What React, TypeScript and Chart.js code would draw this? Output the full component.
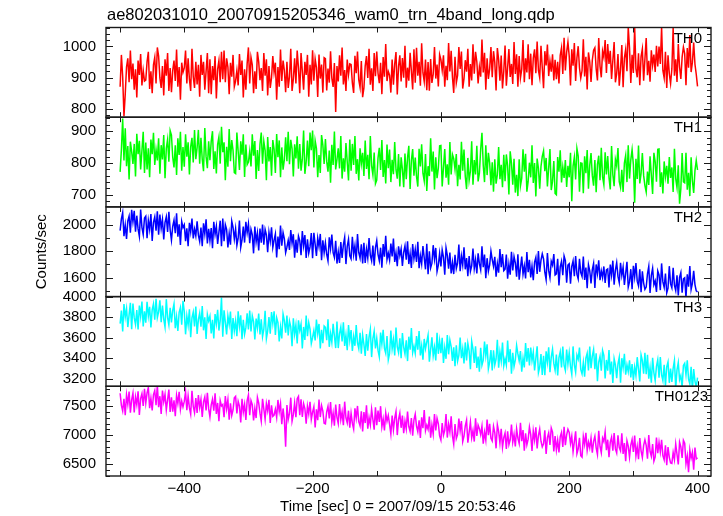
import React, { useEffect, useRef } from 'react';
import { Chart, registerables } from 'chart.js';

Chart.register(...registerables);

const TITLE = 'ae802031010_20070915205346_wam0_trn_4band_long.qdp';
const X_TITLE = 'Time [sec] 0 = 2007/09/15 20:53:46';
const Y_TITLE = 'Counts/sec';

// time grid of the light curves (seconds from 2007/09/15 20:53:46)
const T_START = -500;
const T_STEP = 2;

const X_MIN = -522;
const X_MAX = 421;
const X_LABEL_TICKS = [-400, -200, 0, 200, 400];
const X_MARKS = [-500, -400, -300, -200, -100, 0, 100, 200, 300, 400];

const BANDS = ['TH0', 'TH1', 'TH2', 'TH3', 'TH0123'];
const COLORS = ['#ff0000', '#00ff00', '#0000ff', '#00ffff', '#ff00ff'];
const Y_MIN = [773, 662, 1455, 3125, 6293];
const Y_MAX = [1061, 944, 2139, 4000, 7845];
const Y_TICKS = [
  [800, 900, 1000],
  [700, 800, 900],
  [1600, 1800, 2000],
  [3200, 3400, 3600, 3800, 4000],
  [6500, 7000, 7500],
];
const Y_MINOR = [20, 20, 100, 100, 100];
const Y_MAJOR = [100, 100, 200, 200, 500];

const TH0 = [
  871, 973, 903, 776, 847, 934, 962, 885, 987, 895,
  945, 861, 927, 836, 955, 909, 976, 875, 923, 889,
  892, 951, 983, 864, 920, 850, 941, 965, 881, 997,
  969, 899, 867, 937, 843, 959, 906, 979, 857, 931,
  853, 923, 955, 889, 990, 871, 934, 829, 948, 917,
  931, 987, 881, 962, 895, 857, 993, 903, 867, 951,
  878, 941, 839, 973, 909, 951, 861, 920, 979, 850,
  959, 847, 937, 892, 969, 833, 927, 955, 885, 983,
  895, 987, 885, 962, 934, 847, 948, 903, 973, 871,
  889, 923, 875, 976, 909, 955, 836, 927, 861, 945,
  997, 881, 965, 941, 850, 920, 864, 983, 951, 892,
  931, 857, 979, 906, 959, 843, 937, 867, 899, 969,
  917, 948, 829, 934, 871, 990, 889, 955, 923, 853,
  951, 867, 903, 993, 857, 895, 962, 881, 987, 931,
  850, 979, 920, 861, 951, 909, 973, 839, 941, 878,
  988, 890, 960, 932, 838, 974, 897, 942, 852, 964,
  961, 859, 929, 884, 985, 898, 870, 947, 790, 937,
  888, 972, 906, 997, 878, 924, 857, 958, 910, 944,
  942, 883, 851, 970, 914, 984, 893, 869, 953, 837,
  867, 937, 969, 899, 993, 877, 930, 857, 979, 905,
  984, 914, 882, 948, 847, 966, 903, 1008, 889, 920,
  908, 852, 958, 877, 944, 982, 846, 936, 972, 888,
  963, 900, 1002, 868, 932, 890, 980, 921, 862, 991,
  884, 996, 906, 951, 874, 1010, 916, 888, 958, 860,
  950, 858, 960, 883, 911, 998, 897, 942, 872, 974,
  958, 924, 972, 871, 938, 892, 1011, 920, 986, 902,
  851, 967, 883, 907, 998, 928, 984, 865, 897, 956,
  919, 993, 871, 944, 891, 1007, 913, 983, 951, 881,
  934, 903, 1022, 917, 980, 861, 962, 896, 928, 998,
  901, 985, 949, 859, 995, 957, 890, 971, 865, 921,
  1003, 874, 933, 992, 902, 944, 880, 1014, 912, 975,
  871, 969, 899, 927, 1021, 885, 962, 917, 1007, 895,
  977, 876, 963, 991, 914, 1016, 924, 900, 1002, 932,
  866, 985, 939, 1006, 905, 953, 919, 975, 891, 957,
  895, 951, 881, 972, 996, 912, 1028, 923, 982, 1014,
  969, 875, 991, 938, 1011, 889, 963, 1001, 931, 899,
  922, 1023, 904, 967, 862, 981, 950, 886, 956, 988,
  996, 929, 891, 1027, 937, 901, 985, 965, 1021, 915,
  1008, 944, 986, 896, 955, 1014, 885, 913, 976, 874,
  928, 1005, 869, 963, 991, 921, 1062, 995, 883, 973,
  915, 1062, 929, 901, 978, 876, 968, 992, 890, 960,
  1027, 908, 954, 887, 988, 940, 974, 918, 1002, 936,
  1000, 944, 1062, 923, 899, 983, 867, 972, 913, 881,
  928, 1060, 906, 959, 886, 1008, 934, 896, 966, 998,
  977, 876, 995, 932, 1037, 918, 949, 1013, 943, 911,
  872,
];

const TH1 = [
  772, 842, 940, 808, 909, 790, 853, 748, 867, 836,
  797, 860, 758, 892, 828, 870, 780, 839, 898, 769,
  864, 780, 846, 755, 874, 828, 895, 794, 842, 808,
  878, 766, 856, 811, 888, 752, 846, 874, 804, 902,
  888, 818, 786, 856, 762, 878, 825, 898, 776, 850,
  788, 890, 820, 865, 764, 851, 879, 802, 904, 812,
  848, 904, 798, 879, 812, 774, 910, 820, 784, 868,
  809, 868, 900, 781, 837, 767, 858, 882, 798, 914,
  834, 865, 746, 851, 788, 907, 806, 872, 840, 770,
  767, 896, 837, 778, 868, 826, 890, 756, 858, 795,
  803, 837, 789, 890, 823, 869, 750, 841, 775, 859,
  896, 798, 868, 840, 746, 882, 805, 850, 760, 872,
  843, 769, 891, 818, 871, 755, 849, 779, 811, 881,
  806, 898, 796, 873, 845, 758, 859, 814, 884, 782,
  860, 776, 812, 902, 766, 804, 871, 790, 896, 840,
  902, 786, 870, 846, 755, 825, 769, 888, 856, 797,
  875, 805, 773, 839, 738, 857, 794, 899, 780, 811,
  846, 783, 885, 751, 815, 773, 863, 804, 745, 874,
  776, 860, 794, 885, 766, 812, 745, 846, 798, 832,
  759, 871, 781, 826, 749, 885, 791, 763, 833, 735,
  746, 816, 848, 778, 872, 756, 809, 736, 858, 784,
  842, 740, 810, 765, 866, 779, 751, 828, 726, 818,
  780, 724, 830, 749, 816, 854, 718, 808, 844, 760,
  817, 758, 726, 845, 789, 859, 768, 744, 828, 712,
  790, 759, 878, 773, 836, 717, 818, 752, 784, 854,
  855, 726, 785, 844, 754, 796, 732, 866, 764, 827,
  814, 780, 828, 727, 794, 748, 867, 776, 842, 758,
  718, 816, 746, 774, 868, 732, 809, 764, 854, 742,
  768, 842, 895, 793, 740, 856, 762, 832, 800, 730,
  802, 710, 812, 735, 763, 850, 749, 794, 724, 826,
  743, 827, 791, 701, 837, 799, 732, 813, 707, 763,
  696, 812, 728, 752, 843, 773, 829, 710, 742, 801,
  755, 856, 737, 800, 695, 814, 783, 719, 789, 821,
  838, 774, 816, 726, 785, 844, 715, 743, 806, 704,
  700, 819, 773, 840, 739, 787, 753, 809, 725, 791,
  755, 832, 680, 790, 818, 748, 846, 822, 710, 800,
  799, 705, 821, 768, 841, 719, 793, 831, 761, 729,
  809, 708, 795, 823, 746, 848, 756, 732, 834, 764,
  822, 755, 717, 853, 763, 727, 811, 791, 847, 741,
  723, 779, 709, 800, 824, 740, 856, 751, 810, 842,
  795, 675, 813, 750, 855, 736, 767, 831, 761, 729,
  709, 773, 731, 821, 762, 703, 832, 804, 741, 843,
  844, 725, 771, 704, 805, 757, 791, 735, 819, 753,
  786, 709, 845, 751, 723, 793, 672, 719, 831, 741,
  738, 832, 716, 769, 696, 818, 744, 706, 776, 808,
  778,
];

const TH2 = [
  1958, 2047, 2095, 1916, 2001, 1895, 2032, 2068, 1942, 2116,
  2025, 2109, 1950, 2072, 1971, 1914, 2118, 1983, 1929, 2055,
  2069, 1901, 2036, 1968, 2084, 1880, 2021, 2063, 1958, 2105,
  1927, 2080, 1975, 2043, 1891, 2022, 2064, 1948, 2101, 1963,
  1885, 1990, 2038, 1939, 2091, 1912, 2007, 1849, 2028, 1981,
  2003, 1877, 1976, 1839, 2018, 1949, 2050, 1898, 1970, 1919,
  2029, 1924, 1876, 1981, 1840, 2014, 1934, 2044, 1861, 1972,
  1882, 1977, 1824, 2025, 1929, 1992, 1857, 1946, 2034, 1840,
  2051, 1877, 2003, 1967, 1830, 1936, 1851, 2030, 1982, 1893,
  1972, 1846, 1900, 2035, 1831, 1888, 1989, 1867, 2026, 1942,
  2010, 1863, 1968, 1926, 1785, 1989, 1873, 1941, 1806, 1974,
  1866, 2004, 1851, 1967, 1925, 1794, 1946, 1878, 1983, 1830,
  1886, 1933, 1754, 1912, 1817, 1996, 1844, 1943, 1895, 1790,
  1832, 1883, 1811, 1963, 1862, 1931, 1752, 1889, 1790, 1916,
  1882, 1771, 1954, 1844, 1924, 1750, 1891, 1786, 1834, 1939,
  1748, 1942, 1854, 1765, 1900, 1837, 1933, 1732, 1885, 1790,
  1865, 1776, 1728, 1907, 1822, 1928, 1791, 1755, 1881, 1707,
  1796, 1712, 1871, 1749, 1850, 1907, 1703, 1838, 1892, 1766,
  1743, 1911, 1776, 1844, 1728, 1932, 1791, 1749, 1854, 1707,
  1865, 1712, 1817, 1749, 1901, 1770, 1728, 1844, 1691, 1829,
  1882, 1777, 1729, 1828, 1676, 1855, 1760, 1918, 1739, 1786,
  1734, 1860, 1761, 1898, 1719, 1788, 1687, 1839, 1767, 1818,
  1688, 1793, 1841, 1736, 1877, 1703, 1783, 1673, 1856, 1745,
  1815, 1720, 1873, 1672, 1768, 1705, 1840, 1751, 1663, 1857,
  1626, 1800, 1674, 1710, 1847, 1741, 1826, 1647, 1695, 1784,
  1685, 1811, 1757, 1622, 1826, 1769, 1668, 1790, 1631, 1715,
  1627, 1774, 1669, 1711, 1852, 1648, 1764, 1696, 1831, 1663,
  1749, 1611, 1764, 1648, 1690, 1821, 1669, 1737, 1632, 1785,
  1706, 1659, 1838, 1680, 1775, 1596, 1748, 1649, 1697, 1802,
  1737, 1686, 1758, 1606, 1707, 1638, 1817, 1680, 1779, 1653,
  1664, 1775, 1592, 1702, 1622, 1796, 1655, 1760, 1712, 1607,
  1778, 1584, 1672, 1761, 1626, 1689, 1593, 1794, 1641, 1736,
  1602, 1687, 1581, 1718, 1754, 1628, 1802, 1644, 1733, 1781,
  1742, 1641, 1584, 1788, 1653, 1599, 1725, 1695, 1779, 1620,
  1628, 1744, 1540, 1681, 1723, 1618, 1765, 1729, 1561, 1696,
  1706, 1554, 1685, 1727, 1611, 1764, 1626, 1590, 1743, 1638,
  1609, 1761, 1582, 1677, 1519, 1698, 1651, 1555, 1660, 1708,
  1521, 1700, 1631, 1732, 1580, 1652, 1601, 1685, 1559, 1658,
  1666, 1525, 1699, 1619, 1729, 1546, 1657, 1714, 1609, 1561,
  1712, 1616, 1679, 1544, 1633, 1721, 1527, 1569, 1664, 1511,
  1689, 1604, 1710, 1573, 1537, 1663, 1489, 1647, 1558, 1510,
  1528, 1629, 1686, 1482, 1617, 1671, 1545, 1575, 1491, 1650,
  1620, 1504, 1708, 1567, 1525, 1630, 1483, 1519, 1687, 1552,
  1522, 1674, 1543, 1501, 1617, 1464, 1602, 1638, 1485, 1590,
  1598, 1446, 1625, 1530, 1688, 1509, 1556, 1652, 1547, 1499,
  1490,
];

const TH3 = [
  3737, 3863, 3659, 3927, 3799, 3883, 3703, 3821, 3939, 3681,
  3932, 3792, 3728, 3868, 3680, 3912, 3806, 3952, 3708, 3856,
  3746, 3950, 3810, 3900, 3698, 3872, 3928, 3774, 3978, 3794,
  3851, 3963, 3751, 3913, 3779, 3703, 3975, 3795, 3723, 3891,
  3748, 3866, 3930, 3692, 3804, 3664, 3846, 3894, 3726, 3958,
  3856, 3632, 3812, 3722, 3876, 3604, 3792, 3848, 3708, 3904,
  3635, 3775, 3839, 3707, 3909, 3671, 3797, 3587, 3825, 3763,
  3809, 3641, 3773, 3591, 3829, 3737, 3871, 3669, 3765, 3990,
  3609, 3867, 3749, 3631, 3811, 3727, 3855, 3587, 3791, 3665,
  3761, 3613, 3857, 3711, 3817, 3585, 3773, 3633, 3697, 3837,
  3679, 3863, 3659, 3813, 3757, 3583, 3785, 3695, 3835, 3631,
  3778, 3610, 3682, 3862, 3590, 3666, 3800, 3638, 3850, 3738,
  3857, 3625, 3793, 3745, 3563, 3703, 3591, 3829, 3765, 3647,
  3816, 3620, 3760, 3704, 3516, 3788, 3634, 3724, 3544, 3768,
  3670, 3732, 3494, 3704, 3578, 3816, 3614, 3746, 3682, 3542,
  3601, 3669, 3573, 3775, 3641, 3733, 3495, 3677, 3545, 3713,
  3700, 3574, 3778, 3510, 3638, 3554, 3734, 3616, 3498, 3756,
  3498, 3638, 3702, 3562, 3750, 3518, 3624, 3478, 3722, 3574,
  3674, 3470, 3610, 3520, 3722, 3548, 3492, 3646, 3442, 3626,
  3534, 3422, 3634, 3472, 3606, 3682, 3410, 3590, 3662, 3494,
  3593, 3475, 3411, 3649, 3537, 3677, 3495, 3447, 3615, 3383,
  3446, 3670, 3490, 3580, 3426, 3698, 3510, 3454, 3594, 3398,
  3645, 3505, 3441, 3573, 3371, 3609, 3483, 3693, 3455, 3517,
  3447, 3615, 3483, 3665, 3427, 3519, 3385, 3587, 3491, 3559,
  3624, 3366, 3484, 3602, 3422, 3506, 3378, 3646, 3442, 3568,
  3449, 3597, 3353, 3499, 3393, 3625, 3437, 3577, 3513, 3373,
  3505, 3321, 3525, 3371, 3427, 3601, 3399, 3489, 3349, 3553,
  3376, 3544, 3472, 3292, 3564, 3488, 3354, 3516, 3304, 3416,
  3268, 3500, 3332, 3380, 3562, 3422, 3534, 3296, 3360, 3478,
  3279, 3475, 3335, 3391, 3579, 3307, 3461, 3371, 3551, 3327,
  3395, 3333, 3571, 3361, 3487, 3249, 3451, 3319, 3383, 3523,
  3441, 3373, 3469, 3267, 3401, 3309, 3547, 3365, 3497, 3329,
  3503, 3375, 3459, 3279, 3397, 3515, 3257, 3313, 3439, 3235,
  3422, 3234, 3466, 3360, 3506, 3262, 3410, 3486, 3346, 3282,
  3434, 3232, 3406, 3462, 3308, 3512, 3328, 3280, 3484, 3344,
  3452, 3318, 3242, 3514, 3334, 3262, 3430, 3390, 3502, 3290,
  3246, 3358, 3218, 3400, 3448, 3280, 3512, 3302, 3420, 3484,
  3292, 3446, 3174, 3362, 3418, 3278, 3474, 3426, 3202, 3382,
  3277, 3479, 3241, 3367, 3157, 3395, 3333, 3205, 3345, 3409,
  3161, 3399, 3307, 3441, 3239, 3335, 3267, 3379, 3211, 3343,
  3185, 3313, 3229, 3409, 3291, 3173, 3431, 3375, 3249, 3453,
  3244, 3432, 3200, 3306, 3160, 3404, 3256, 3180, 3320, 3384,
  3209, 3411, 3237, 3181, 3335, 3131, 3315, 3363, 3159, 3299,
  3167, 3301, 3377, 3105, 3285, 3357, 3189, 3229, 3117, 3329,
  3350, 3238, 3378, 3196, 3148, 3316, 3084, 3294, 3176, 3112,
  3210,
];

const TH0123 = [
  7725, 7515, 7419, 7629, 7347, 7695, 7536, 7755, 7389, 7611,
  7728, 7392, 7662, 7527, 7758, 7350, 7632, 7716, 7506, 7800,
  7552, 7729, 7825, 7468, 7636, 7426, 7699, 7771, 7519, 7867,
  7485, 7674, 7368, 7770, 7578, 7704, 7434, 7611, 7788, 7401,
  7656, 7404, 7602, 7329, 7686, 7548, 7749, 7446, 7590, 7488,
  7583, 7751, 7433, 7676, 7475, 7361, 7769, 7499, 7391, 7643,
  7386, 7692, 7482, 7617, 7314, 7575, 7659, 7428, 7734, 7458,
  7314, 7524, 7620, 7422, 7725, 7368, 7557, 7242, 7599, 7506,
  7531, 7309, 7675, 7456, 7615, 7267, 7549, 7339, 7435, 7645,
  7670, 7376, 7586, 7502, 7220, 7628, 7397, 7532, 7262, 7598,
  7695, 7347, 7599, 7527, 7254, 7464, 7296, 7653, 7557, 7380,
  7242, 7629, 7452, 7275, 7545, 7419, 7611, 7209, 7515, 7326,
  7348, 7450, 7306, 7609, 7408, 7546, 7189, 7462, 7264, 6800,
  7522, 7270, 7378, 7648, 7240, 7354, 7555, 7312, 7630, 7670,
  7343, 7619, 7313, 7544, 7460, 7199, 7502, 7367, 7577, 7271,
  7397, 7490, 7133, 7448, 7259, 7616, 7313, 7511, 7415, 7205,
  7194, 7404, 7500, 7290, 7572, 7224, 7383, 7164, 7530, 7308,
  7201, 7537, 7267, 7402, 7171, 7579, 7297, 7213, 7423, 7129,
  7379, 7202, 7106, 7463, 7295, 7505, 7232, 7160, 7412, 7064,
  7398, 7209, 7515, 7113, 7305, 7179, 7449, 7272, 7095, 7482,
  7174, 7426, 7228, 7501, 7144, 7282, 7081, 7384, 7240, 7342,
  7187, 7019, 7337, 7094, 7295, 7409, 7001, 7271, 7379, 7127,
  7338, 7032, 7242, 7107, 7410, 7149, 7065, 7296, 6990, 7266,
  7364, 7154, 7058, 7256, 6953, 7310, 7121, 7436, 7079, 7172,
  7101, 7323, 6957, 7176, 7017, 7365, 7083, 7293, 7197, 6987,
  6916, 7210, 7000, 7084, 7366, 6958, 7189, 7054, 7324, 6988,
  6845, 7193, 6941, 7013, 7286, 7076, 7244, 6887, 6983, 7160,
  7258, 6871, 7048, 7225, 6955, 7081, 6889, 7291, 6985, 7174,
  7112, 7010, 7154, 6851, 7052, 6914, 7271, 6998, 7196, 6944,
  6898, 7150, 7042, 6772, 7180, 7066, 6865, 7108, 6790, 6958,
  7037, 6761, 7067, 6836, 6920, 7181, 6878, 7013, 6803, 7109,
  6948, 6855, 7212, 6897, 7086, 6729, 7032, 6834, 6930, 7140,
  7009, 6727, 7075, 6916, 7135, 6769, 6991, 7105, 6895, 6799,
  6851, 7082, 6674, 6956, 7040, 6830, 7124, 7052, 6716, 6986,
  6744, 6912, 6702, 6975, 7047, 6795, 7143, 6828, 7005, 7101,
  7048, 6856, 6982, 6712, 6889, 7066, 6679, 6763, 6952, 6646,
  6620, 6977, 6839, 7040, 6737, 6881, 6779, 6947, 6695, 6893,
  6981, 6780, 6666, 7074, 6804, 6696, 6948, 6888, 7056, 6738,
  6921, 6618, 6879, 6963, 6732, 7038, 6762, 6690, 6996, 6786,
  6727, 7030, 6673, 6862, 6547, 6904, 6811, 6619, 6829, 6925,
  6710, 6992, 6644, 6803, 6584, 6950, 6728, 6614, 6824, 6920,
  6823, 6592, 7000, 6718, 6634, 6844, 6550, 6622, 6958, 6688,
  6877, 6709, 6919, 6646, 6574, 6826, 6478, 6793, 6616, 6520,
  6510, 6702, 6576, 6846, 6669, 6492, 6879, 6795, 6606, 6912,
  6861, 6504, 6642, 6360, 6744, 6600, 6702, 6400, 6786, 6588,
  6610,
];

const SERIES = [TH0, TH1, TH2, TH3, TH0123];

const FONT_FAMILY = '"Liberation Sans", Arial, Helvetica, sans-serif';

const qdpFrame = {
  id: 'qdpFrame',
  afterDatasetsDraw(chart: any) {
    const { ctx, chartArea } = chart;
    const xs = chart.scales.x;
    const left = chartArea.left;
    const right = chartArea.right;
    ctx.save();
    ctx.strokeStyle = '#1a1a1a';
    ctx.lineWidth = 1;
    const line = (x1: number, y1: number, x2: number, y2: number) => {
      ctx.beginPath();
      ctx.moveTo(x1, y1);
      ctx.lineTo(x2, y2);
      ctx.stroke();
    };
    BANDS.forEach((name, i) => {
      const ys = chart.scales['y' + i];
      const top = ys.top;
      const bottom = ys.bottom;
      const step = Y_MINOR[i];
      for (let v = Math.ceil(ys.min / step) * step; v <= ys.max; v += step) {
        const py = Math.round(ys.getPixelForValue(v)) + 0.5;
        const len = v % Y_MAJOR[i] === 0 ? 7 : 4;
        line(left, py, left + len, py);
        line(right, py, right - len, py);
      }
      X_MARKS.forEach((v) => {
        const px = Math.round(xs.getPixelForValue(v)) + 0.5;
        line(px, bottom, px, bottom - 5);
        line(px, top, px, top + 5);
      });
      ctx.save();
      ctx.lineWidth = 1.4;
      ctx.strokeRect(left, top, right - left, bottom - top);
      ctx.restore();
      ctx.fillStyle = '#000';
      ctx.font = '15px ' + FONT_FAMILY;
      ctx.textAlign = 'right';
      ctx.textBaseline = 'middle';
      ctx.fillText(name, i === 4 ? right - 3 : right - 9, top + 11);
    });
    ctx.fillStyle = '#000';
    ctx.font = '16.5px ' + FONT_FAMILY;
    ctx.textAlign = 'left';
    ctx.textBaseline = 'alphabetic';
    ctx.fillText(TITLE, 107, 20);
    ctx.font = '15px ' + FONT_FAMILY;
    ctx.textAlign = 'center';
    ctx.textBaseline = 'middle';
    ctx.fillText(X_TITLE, 398, 507);
    ctx.translate(42, (chartArea.top + chartArea.bottom) / 2);
    ctx.rotate(-Math.PI / 2);
    ctx.fillText(Y_TITLE, 0, 0);
    ctx.restore();
  },
};

export default function App() {
  const canvasRef = useRef<HTMLCanvasElement | null>(null);

  useEffect(() => {
    const canvas = canvasRef.current;
    if (!canvas) return;
    const tickFont = { family: FONT_FAMILY, size: 15 };
    const scales: any = {
      x: {
        type: 'linear',
        min: X_MIN,
        max: X_MAX,
        afterBuildTicks: (s: any) => {
          s.ticks = X_LABEL_TICKS.map((v) => ({ value: v }));
        },
        afterFit: (s: any) => {
          s.height = 40;
        },
        grid: { display: false, drawTicks: false },
        border: { display: false },
        ticks: {
          font: tickFont,
          color: '#000',
          padding: 4,
          maxRotation: 0,
          autoSkip: false,
          callback: (v: any) => (v < 0 ? '\u2212' + Math.abs(v) : String(v)),
        },
      },
    };
    BANDS.forEach((_, i) => {
      scales['y' + i] = {
        type: 'linear',
        position: 'left',
        stack: 'panels',
        stackWeight: 1,
        weight: BANDS.length - i,
        min: Y_MIN[i],
        max: Y_MAX[i],
        afterBuildTicks: (s: any) => {
          s.ticks = Y_TICKS[i].map((v) => ({ value: v }));
        },
        afterFit: (s: any) => {
          s.width = 106;
        },
        grid: { display: false, drawTicks: false },
        border: { display: false },
        ticks: {
          font: tickFont,
          color: '#000',
          padding: 10,
          autoSkip: false,
          callback: (v: any) => String(v),
        },
      };
    });

    const datasets = SERIES.map((vals, i) => ({
      label: BANDS[i],
      data: vals.map((y, k) => ({ x: T_START + k * T_STEP, y })),
      yAxisID: 'y' + i,
      borderColor: COLORS[i],
      backgroundColor: COLORS[i],
      borderWidth: 1.5,
      pointRadius: 0,
      tension: 0,
      fill: false,
    }));

    const chart = new Chart(canvas, {
      type: 'line',
      data: { datasets },
      options: {
        animation: false,
        responsive: true,
        maintainAspectRatio: false,
        layout: { padding: { left: 0, top: 27.5, right: 12, bottom: 0 } },
        plugins: {
          legend: { display: false },
          tooltip: { enabled: false },
          title: { display: false },
        },
        scales,
      },
      plugins: [qdpFrame],
    } as any);
    return () => chart.destroy();
  }, []);

  return (
    <div style={{ position: 'absolute', left: 0, top: 0, width: 723, height: 516, background: '#fff' }}>
      <canvas ref={canvasRef} />
    </div>
  );
}
